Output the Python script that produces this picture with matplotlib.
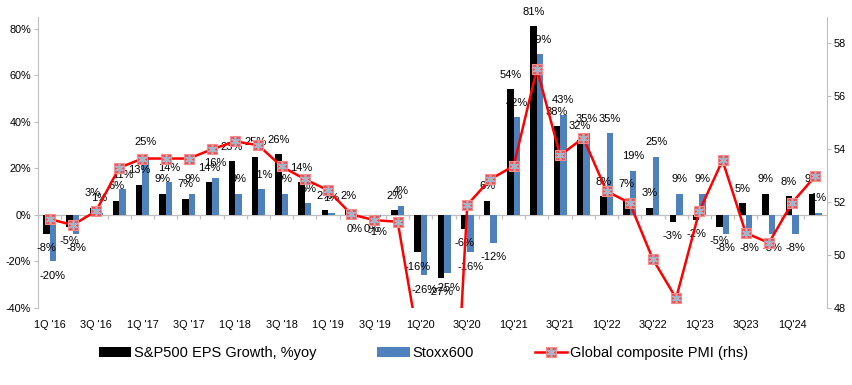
import numpy as np
import matplotlib
matplotlib.use('Agg')
import matplotlib.pyplot as plt
from matplotlib.lines import Line2D

plt.rcParams['font.family'] = ['Liberation Sans', 'DejaVu Sans']

# quarterly data, 1Q'16 .. 2Q'24
quarters = ["1Q '16", "2Q '16", "3Q '16", "4Q '16",
            "1Q '17", "2Q '17", "3Q '17", "4Q '17",
            "1Q '18", "2Q '18", "3Q '18", "4Q '18",
            "1Q '19", "2Q '19", "3Q '19", "4Q '19",
            "1Q'20", "2Q'20", "3Q'20", "4Q'20",
            "1Q'21", "2Q'21", "3Q'21", "4Q'21",
            "1Q'22", "2Q'22", "3Q'22", "4Q'22",
            "1Q'23", "2Q'23", "3Q23", "4Q23",
            "1Q'24", "2Q'24"]
sp500 = [-8, -5, 3, 6, 13, 9, 7, 14, 23, 25, 26, 14, 2, 2, 0, 2,
         -16, -27, -6, 6, 54, 81, 38, 32, 8, 7, 3, -3, -2, -5, 5, 9, 8, 9]
stoxx = [-20, -8, 1, 11, 25, 14, 9, 16, 9, 11, 9, 5, 1, 0, -1, 4,
         -26, -25, -16, -12, 42, 69, 43, 35, 35, 19, 25, 9, 9, -8, -8, -8, -8, 1]
pmi = [51.36, 51.14, 51.66, 53.3, 53.65, 53.65, 53.65, 54.0, 54.3, 54.15,
       53.35, 52.87, 52.45, 51.54, 51.32, 51.26, 46.2, 36.0, 51.9, 52.87,
       53.37, 57.04, 53.77, 54.43, 52.42, 51.97, 49.84, 48.37, 51.66, 53.58,
       50.84, 50.46, 51.98, 52.99]

x = np.arange(len(quarters))
sp = np.array(sp500) / 100.0
sx = np.array(stoxx) / 100.0

fig = plt.figure(figsize=(8.52, 3.85), dpi=100)
ax = fig.add_axes([0.0446, 0.2, 0.926, 0.7558])
ax2 = ax.twinx()

w = 0.28
b1 = ax.bar(x - w / 2, sp, w, color='black', label='S&P500 EPS Growth, %yoy')
b2 = ax.bar(x + w / 2, sx, w, color='#4f81bd', label='Stoxx600')

# data labels, outside end
for xs, vals in [(x - w / 2, sp), (x + w / 2, sx)]:
    for xi, v in zip(xs, vals):
        off = 10.5 if v > 0 else -10.5
        ax.annotate('%d%%' % round(v * 100), (xi, v), xytext=(0, off),
                    textcoords='offset points', ha='center', va='center',
                    fontsize=8, color='black')

ax.set_xlim(-0.5, len(x) - 0.5)
ax.set_ylim(-0.40, 0.85)
ax.set_yticks(np.arange(-0.4, 0.81, 0.2))
ax.yaxis.set_major_formatter(matplotlib.ticker.FuncFormatter(lambda v, p: '%d%%' % round(v * 100)))
ax.set_xticks(x[::2], quarters[::2])
ax.tick_params(axis='x', length=0, pad=9, labelsize=7.8)
ax.tick_params(axis='y', length=3, color='#bfbfbf', labelsize=7.8, pad=2)

# zero line with category ticks
ax.axhline(0, color='#bfbfbf', lw=0.9, zorder=0.5)
ax.vlines(np.arange(-0.5, len(x)), -0.017, 0, color='#bfbfbf', lw=0.9, zorder=0.5)

for s in ['top', 'bottom', 'right']:
    ax.spines[s].set_visible(False)
ax.spines['left'].set_color('#bfbfbf')

ln, = ax2.plot(x, pmi, color='#ff0000', lw=1.8, marker='s', ms=7.5,
               mfc='#f24a4a', mec='#ff8c8c', mew=0.8, zorder=3)
st, = ax2.plot(x, pmi, ls='none', marker=(6, 2, 0), ms=6.5, mec='#a8b4c8',
               mew=1.2, zorder=4)
ax2.set_ylim(48, 59)
ax2.set_yticks(np.arange(48, 59, 2))
ax2.tick_params(axis='y', length=3, color='#bfbfbf', labelsize=7.8, pad=2)
for s in ['top', 'bottom', 'left']:
    ax2.spines[s].set_visible(False)
ax2.spines['right'].set_color('#bfbfbf')

fig.legend([b1, b2, (ln, st)],
           ['S&P500 EPS Growth, %yoy', 'Stoxx600', 'Global composite PMI (rhs)'],
           loc='center', bbox_to_anchor=(0.497, 0.083), ncol=3, frameon=False,
           fontsize=10.5, handlelength=2.2, handletextpad=0.2, columnspacing=4.2)

plt.savefig('out.png', dpi=100)
